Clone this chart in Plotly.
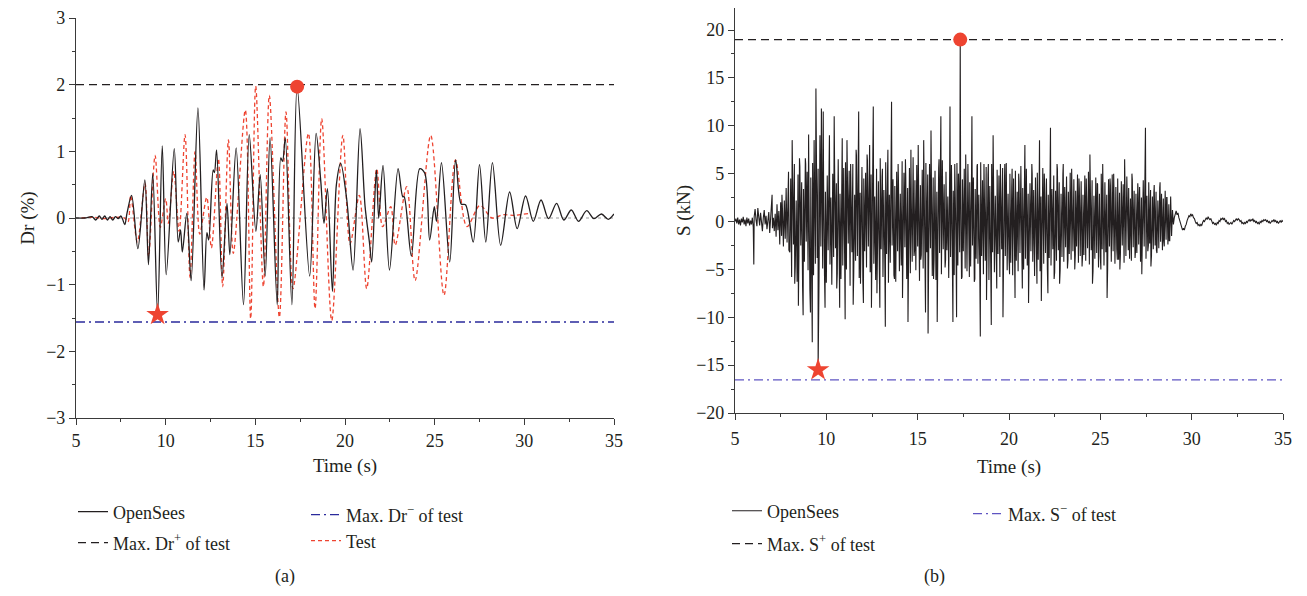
import numpy as np
import plotly.graph_objects as go

FONT = 'Liberation Serif'
INK = '#231f20'
RED = '#ee4431'
BLUE_A = '#2a2a9c'
BLUE_B = '#5f55c2'
AXIS = '#3a3a3a'

# ---- (a) drift ratio Dr (%) : turning points ----
dr_opensees_t = [5.0, 5.5, 5.9, 6.1, 6.3, 6.45, 6.6, 6.75, 6.9, 7.05, 7.2, 7.35, 7.5, 7.6, 7.72, 7.85,
	8.1, 8.45, 8.84, 9.04, 9.28, 9.55, 9.81, 10.03, 10.48, 10.7, 10.83, 10.93, 11.18, 11.42,
	11.8, 12.14, 12.3, 12.4, 12.65, 12.72, 12.84, 13.14, 13.42, 13.58, 13.93, 14.34, 14.66,
	15.03, 15.27, 15.55, 15.82, 16.22, 16.42, 16.52, 16.67, 17.04, 17.33, 18.03, 18.39, 18.65,
	18.83, 19.02, 19.3, 19.52, 19.76, 20.1, 20.45, 20.84, 21.12, 21.36, 21.49, 21.75, 21.88,
	22.12, 22.48, 22.96, 23.22, 23.3, 23.7, 24.17, 24.45, 24.72, 24.98, 25.1, 25.38, 25.84,
	26.17, 26.48, 26.72, 27.15, 27.5, 27.85, 28.22, 28.68, 29.18, 29.6, 30.07, 30.5, 30.93,
	31.35, 31.8, 32.2, 32.62, 33.02, 33.48, 33.88, 34.3, 34.68, 35.0]
dr_opensees = [0.0, 0.0, 0.02, -0.03, 0.03, -0.02, 0.03, -0.03, 0.02, -0.03, 0.02, -0.01, 0.03, -0.02, -0.1, 0.08,
	0.34, -0.46, 0.57, -0.7, 0.67, -1.45, 1.08, -0.85, 1.04, -0.36, -0.18, -0.51, 0.07, -0.94,
	1.65, -1.08, -0.22, -0.33, 0.72, 0.68, 1.02, -0.9, 0.22, -0.55, 1.05, -1.3, 1.25,
	-0.2, 0.65, -0.87, 1.2, -1.3, 0.9, 0.85, 1.2, -1.3, 1.97, -0.87, 1.27, 0.55,
	-0.08, 0.44, -1.1, 0.5, 0.82, 0.27, -0.78, 1.34, 0.17, -0.36, -0.66, 0.72, 0.0,
	0.79, -0.78, 0.74, 0.32, 0.32, -0.57, 0.74, 0.67, -0.33, 0.17, -0.05, 0.83, -0.66,
	0.87, 0.21, 0.2, -0.36, 0.8, -0.36, 0.83, -0.41, 0.39, -0.16, 0.33, -0.05, 0.27,
	-0.01, 0.22, -0.03, 0.12, -0.05, 0.11, -0.01, 0.06, -0.02, 0.06]

dr_test_t = [5.3, 6.0, 6.6, 7.2, 7.7, 7.9, 8.05, 8.42, 8.85, 9.05, 9.41, 9.7, 10.0, 10.15, 10.45, 10.75,
	11.08, 11.36, 11.64, 11.9, 12.29, 12.55, 12.94, 13.18, 13.5, 13.77, 14.44, 14.74, 15.02,
	15.45, 15.78, 16.34, 16.71, 17.1, 17.96, 18.33, 18.7, 19.26, 19.88, 20.28, 20.8, 21.21,
	21.77, 22.1, 22.55, 22.8, 23.44, 23.91, 24.78, 25.52, 26.16, 26.8, 27.53, 28.2, 28.8,
	29.4, 30.3]
dr_test = [0.0, 0.01, -0.01, 0.01, 0.0, -0.06, 0.34, -0.36, 0.52, -0.58, 0.94, -0.14, 0.29, -0.08, 0.7, -0.2,
	1.25, -0.89, 1.0, -0.24, 0.31, -0.45, 0.89, -1.03, 1.17, -0.53, 1.62, -1.51, 1.98,
	-1.03, 1.84, -1.49, 1.59, -1.06, 1.27, -1.36, 1.49, -1.54, 1.24, -0.39, 0.34, -1.06,
	0.74, -0.13, 0.17, -0.41, 0.47, -0.94, 1.24, -1.16, 0.87, -0.13, 0.19, 0.0, 0.05,
	0.04, 0.07]

dr_max_pos = 2.0
dr_max_neg = -1.56
dr_peak_t, dr_peak = 17.33, 1.97
dr_low_t, dr_low = 9.55, -1.45

# ---- (b) shear force S (kN) ----
# record sampled every 0.05 s from 5 s to 35 s (pre-event, strong motion, free vibration)
s_start, s_step = 5.0, 0.05
s_pre = [
	0.0, 0.3, -0.2, 0.4, -0.3, 0.2, -0.4, 0.3, -0.1, 0.5,
	-0.3, 0.2, -0.5, 0.4, -0.2, 0.3, -0.4, 0.1, -0.3, 0.4,
	-0.6, 0.5, 1.3, 0.2, -0.5, 1.4, 0.3, -0.4, 0.9, -0.2,
	-1.0, 0.4, 1.2, -0.3, 0.6, -0.8, 0.2, 1.0, -1.2, 0.5,
	1.5, -0.7, 0.4, -1.0, 0.8, -1.6, 1.8, -0.9, 1.1, -2.4,
	2.0, -1.5, 1.2, -2.6, 2.2, -1.8, 3.5, -2.2, 1.6, -3.0]
s_strong = [
	-3.2, 4.5, -5.8, 3.1, -2.4, 6.0, -4.7, 2.2, -6.3, 4.9,
	-3.6, 5.8, -2.5, 4.1, -6.9, 3.4, -4.2, 6.6, -2.1, 5.2,
	-5.1, 3.0, -7.2, 4.6, -3.3, 6.1, -5.6, 2.7, -4.4, 7.0,
	-3.8, 5.5, -6.1, 3.6, -2.6, 6.8, -4.9, 4.2, -5.7, 3.1,
	-6.4, 4.8, -3.0, 5.9, -4.5, 2.5, -6.6, 5.0, -3.7, 6.3,
	-2.8, 4.0, -5.4, 6.5, -3.9, 2.9, -6.0, 4.7, -4.6, 5.6,
	-3.4, 6.2, -5.0, 3.5, -2.3, 5.3, -6.7, 4.1, -3.2, 6.0,
	-5.5, 2.8, -4.1, 6.9, -3.6, 4.4, -5.9, 3.0, -2.7, 5.7,
	-6.2, 4.5, -3.1, 5.1, -4.8, 6.4, -2.6, 3.8, -5.3, 4.9,
	-3.5, 6.0, -4.4, 2.6, -6.1, 5.5, -3.0, 4.2, -5.0, 6.6,
	-2.9, 4.7, -5.8, 3.3, -4.0, 6.2, -3.4, 5.0, -6.4, 2.8,
	-4.3, 5.8, -2.5, 4.4, -5.6, 3.7, -6.3, 5.2, -3.1, 4.0,
	-5.2, 2.9, -4.6, 6.3, -3.3, 5.1, -2.7, 4.6, -6.0, 3.5,
	-3.9, 5.6, -5.4, 2.4, -4.2, 6.7, -3.6, 4.3, -5.1, 5.9,
	-2.6, 4.1, -6.2, 3.8, -3.5, 5.4, -4.9, 2.7, -5.8, 6.1,
	-3.2, 4.9, -4.5, 6.0, -2.8, 3.4, -5.7, 4.6, -3.9, 5.3,
	-6.1, 3.1, -4.0, 5.6, -3.3, 4.2, -5.5, 6.4, -2.9, 3.9,
	-4.8, 5.2, -3.0, 2.6, -5.9, 4.7, -3.7, 5.9, -4.3, 3.2,
	-5.6, 4.0, -2.7, 6.1, -4.6, 3.6, -3.2, 5.0, -6.0, 4.4,
	-3.1, 5.5, -4.9, 2.9, -5.2, 6.0, -3.5, 4.1, -4.7, 5.3,
	-2.5, 4.6, -6.3, 3.4, -3.9, 5.8, -4.4, 2.8, -5.0, 6.2,
	-3.6, 4.3, -5.5, 3.0, -4.1, 5.7, -2.8, 4.9, -6.1, 3.7,
	-4.5, 6.0, -3.2, 4.4, -5.3, 2.7, -4.0, 5.4, -3.4, 4.8,
	-5.8, 3.3, -2.9, 5.6, -4.7, 4.0, -3.6, 6.1, -5.1, 2.9,
	-3.8, 5.0, -4.3, 3.6, -5.6, 4.5, -2.6, 5.3, -4.1, 3.1,
	-5.2, 4.2, -3.3, 5.8, -2.9, 3.5, -5.0, 4.7, -3.9, 5.5,
	-4.6, 2.9, -5.4, 4.0, -3.1, 6.0, -4.2, 3.3, -5.7, 4.6,
	-2.7, 5.1, -4.0, 3.7, -5.2, 2.6, -3.5, 5.6, -4.4, 3.9,
	-3.3, 4.5, -5.0, 2.8, -3.8, 5.2, -4.6, 3.4, -2.9, 4.8,
	-5.3, 3.2, -4.1, 5.5, -3.0, 4.1, -5.1, 2.9, -3.7, 5.0,
	-4.2, 3.6, -2.7, 4.7, -4.9, 3.1, -3.4, 5.1, -4.0, 2.6,
	-3.1, 4.4, -5.0, 3.2, -2.6, 4.9, -4.3, 3.5, -3.6, 4.2,
	-4.7, 2.8, -3.5, 4.8, -4.1, 3.0, -2.8, 5.2, -4.5, 3.6,
	-3.0, 4.3, -5.2, 2.7, -3.9, 4.6, -3.3, 3.9, -4.8, 2.9,
	-3.7, 5.0, -2.9, 3.4, -4.6, 4.1, -3.2, 2.8, -5.0, 4.4,
	-2.6, 3.8, -4.2, 4.9, -3.1, 2.7, -4.4, 3.6, -2.9, 4.5,
	-4.0, 3.0, -3.4, 4.2, -2.5, 3.9, -4.3, 2.6, -3.6, 4.7,
	-2.8, 3.5, -3.9, 2.4, -4.1, 4.4, -2.7, 3.2, -3.8, 2.9,
	-3.3, 4.0, -2.4, 3.6, -4.2, 2.5, -3.0, 4.3, -2.6, 3.4,
	-3.9, 2.7, -3.1, 4.1, -2.3, 3.3, -3.6, 2.6, -2.9, 3.8,
	-2.5, 3.1, -3.3, 2.2, -2.8, 3.5, -2.1, 2.9, -3.0, 2.4,
	-2.6, 3.2, -1.9, 2.5, -2.4, 1.8, -2.0, 2.6, -1.5, 1.2]
s_tail = [
	-0.3, 0.4, 0.8, 1.1, 0.7, 0.9, 0.4, 0.1, -0.4, -0.6,
	-0.9, -0.7, -0.9, -0.5, -0.3, 0.1, 0.3, 0.6, 0.5, 0.8,
	0.6, 0.7, 0.4, 0.3, 0.0, -0.2, -0.1, -0.4, -0.3, -0.5,
	-0.3, -0.4, -0.1, 0.1, 0.0, 0.3, 0.4, 0.2, 0.5, 0.3,
	0.2, 0.3, 0.0, -0.2, -0.1, -0.3, -0.2, -0.4, -0.1, -0.2,
	0.1, 0.0, 0.3, 0.2, 0.4, 0.2, 0.3, 0.0, 0.1, -0.2,
	-0.1, -0.3, -0.2, -0.1, -0.3, 0.0, 0.1, 0.0, 0.2, 0.3,
	0.1, 0.3, 0.2, 0.0, 0.1, -0.2, -0.1, -0.3, -0.1, -0.2,
	0.0, -0.1, 0.1, 0.2, 0.0, 0.2, 0.1, 0.3, 0.0, 0.1,
	-0.1, 0.0, -0.2, -0.1, -0.3, 0.0, -0.1, 0.1, 0.0, 0.2,
	0.1, 0.2, 0.0, 0.1, -0.1, 0.0, -0.2, -0.1, 0.1, 0.0,
	0.2, 0.0, 0.1, -0.1, 0.0, -0.2, 0.0, 0.1, -0.1, 0.1,
	0.0]
# isolated peaks that stand out of the record
s_spike_t = [6.03, 7.03, 7.57, 7.93, 8.13, 8.27, 8.47, 8.53, 8.73, 8.87, 9.03, 9.13, 9.23, 9.33, 9.43,
	9.55, 9.65, 9.73, 9.83, 9.93, 10.17, 10.43, 10.57, 10.73, 10.87, 11.03, 11.13, 11.33, 11.47,
	11.63, 11.77, 11.87, 12.03, 12.23, 12.37, 12.47, 12.57, 12.77, 12.93, 13.07, 13.23, 13.37,
	13.57, 13.73, 13.93, 14.17, 14.33, 14.47, 14.63, 14.83, 15.03, 15.17, 15.33, 15.43, 15.57,
	15.73, 15.87, 16.07, 16.17, 16.27, 16.53, 16.77, 16.93, 17.03, 17.13, 17.23, 17.33, 17.43,
	17.63, 17.83, 17.97, 18.13, 18.27, 18.43, 18.63, 18.77, 18.87, 19.03, 19.13, 19.33, 19.53,
	19.67, 19.77, 20.03, 20.17, 20.33, 20.53, 20.73, 20.87, 21.07, 21.27, 21.53, 21.67, 21.77,
	21.93, 22.13, 22.27, 22.47, 22.63, 22.77, 22.97, 23.23, 23.43, 23.63, 23.83, 24.03, 24.23,
	24.43, 24.57, 24.83, 25.03, 25.13, 25.37, 25.53, 25.73, 25.93, 26.07, 26.33, 26.53, 26.73,
	26.93, 27.07, 27.27, 27.47, 27.63, 27.77, 27.93, 28.07, 28.27, 28.47, 28.63, 28.77]
s_spike = [-4.5, 2.8, 2.8, 5.2, 8.5, -6.5, -8.8, 6.6, -9.8, 6.0, 9.1, -9.5, -12.6, 8.5, 13.9,
	-15.5, 9.0, 11.8, 11.5, -9.0, 9.0, 11.0, -7.0, -9.0, 8.7, -10.2, 8.5, 6.0, -8.7,
	7.5, 11.5, -6.5, -8.5, 7.0, 8.0, -9.0, 12.0, -7.5, -9.0, 5.5, -11.0, 7.5,
	12.5, -6.0, 6.0, -8.0, 6.5, -10.5, 7.5, -3.0, 8.0, -4.0, 8.5, -9.5, -11.7,
	9.5, -6.0, -10.5, 6.5, 11.0, -4.0, 12.0, -10.5, 6.0, -10.0, 5.0, 19.0, -5.8,
	7.0, -5.8, 11.0, -6.0, 6.0, -12.0, 6.0, -8.2, 6.0, -10.8, 9.0, -7.0, 6.0,
	-10.0, 6.0, -5.5, 5.5, -8.0, 5.0, -7.0, 8.0, -8.5, 5.0, -6.5, 8.5, -8.3,
	5.0, -7.5, 9.8, -6.0, 6.0, -6.5, 6.0, -4.0, 5.5, -3.5, 4.5, -3.5, 4.5,
	7.0, -6.5, 4.0, -5.0, 6.0, -8.0, 4.5, 5.0, -4.0, -5.0, 6.5, -3.0, 5.0,
	-3.0, 3.0, -5.5, 9.8, -2.5, -4.7, 3.0, -3.0, 4.1, -2.0, 2.5, -2.0]

s_max_pos = 19.0
s_max_neg = -16.55
s_peak_t, s_peak = 17.33, 19.0
s_low_t, s_low = 9.55, -15.5

# merge the sampled record with the read-off peaks, in time order
s_record = s_pre + s_strong + s_tail
s_rec_t = np.round(s_start + s_step*np.arange(len(s_record)), 2)
s_t = np.concatenate([s_rec_t, s_spike_t])
s_v = np.concatenate([s_record, s_spike])
order = np.argsort(s_t, kind='stable')
s_t, s_v = s_t[order], s_v[order]

# the page body keeps its default 8 px margin, so the figure is shrunk to fit
# and positions below are given in window pixels
W, H, OFF = 1307, 596, 8
FW, FH = W - 2*OFF, H - 2*OFF
def px_x(p):
	return min(1, max(0, (p - OFF)/FW))
def px_y(p):
	return min(1, max(0, 1 - (p - OFF)/FH))

fig = go.Figure()

# (a)
fig.add_trace(go.Scatter(x=dr_test_t, y=dr_test, mode='lines', name='Test',
	line=dict(color=RED, width=1.3, dash='4px,3px', shape='spline', smoothing=0.9),
	xaxis='x', yaxis='y', legend='legend4'))
fig.add_trace(go.Scatter(x=dr_opensees_t, y=dr_opensees, mode='lines', name='OpenSees',
	line=dict(color=INK, width=1.3, shape='spline', smoothing=0.9),
	xaxis='x', yaxis='y', legend='legend'))
fig.add_trace(go.Scatter(x=[5, 35], y=[dr_max_pos]*2, mode='lines', name='Max. Dr<sup>+</sup> of test',
	line=dict(color=INK, width=1.2, dash='8px,5px'), xaxis='x', yaxis='y', legend='legend2'))
fig.add_trace(go.Scatter(x=[5, 35], y=[dr_max_neg]*2, mode='lines', name='Max. Dr<sup>\u2212</sup> of test',
	line=dict(color=BLUE_A, width=1.3, dash='9px,4px,2px,4px'), xaxis='x', yaxis='y', legend='legend3'))
fig.add_trace(go.Scatter(x=[dr_peak_t], y=[dr_peak], mode='markers', showlegend=False,
	marker=dict(color=RED, size=14, symbol='circle'), xaxis='x', yaxis='y'))
fig.add_trace(go.Scatter(x=[dr_low_t], y=[dr_low], mode='markers', showlegend=False,
	marker=dict(color=RED, size=17, symbol='star'), xaxis='x', yaxis='y'))

# (b)
fig.add_trace(go.Scatter(x=s_t, y=s_v, mode='lines', name='OpenSees',
	line=dict(color=INK, width=1.1), xaxis='x2', yaxis='y2', legend='legend5'))
fig.add_trace(go.Scatter(x=[5, 35], y=[s_max_pos]*2, mode='lines', name='Max. S<sup>+</sup> of test',
	line=dict(color=INK, width=1.2, dash='8px,5px'), xaxis='x2', yaxis='y2', legend='legend6'))
fig.add_trace(go.Scatter(x=[5, 35], y=[s_max_neg]*2, mode='lines', name='Max. S<sup>\u2212</sup> of test',
	line=dict(color=BLUE_B, width=1.3, dash='9px,4px,2px,4px'), xaxis='x2', yaxis='y2', legend='legend7'))
fig.add_trace(go.Scatter(x=[s_peak_t], y=[s_peak], mode='markers', showlegend=False,
	marker=dict(color=RED, size=14, symbol='circle'), xaxis='x2', yaxis='y2'))
fig.add_trace(go.Scatter(x=[s_low_t], y=[s_low], mode='markers', showlegend=False,
	marker=dict(color=RED, size=17, symbol='star'), xaxis='x2', yaxis='y2'))

axis_common = dict(
	showgrid=False, zeroline=False, showline=True, linecolor=AXIS, linewidth=1.2,
	ticks='outside', ticklen=6, tickwidth=1, tickcolor=AXIS, automargin=False,
	tickfont=dict(family=FONT, size=18, color=INK),
	title_font=dict(family=FONT, size=19, color=INK),
)
fig.update_layout(
	width=FW, height=FH,
	margin=dict(l=0, r=0, t=0, b=0, autoexpand=False),
	paper_bgcolor='white', plot_bgcolor='white',
	font=dict(family=FONT, size=18, color=INK),
	xaxis=dict(domain=[px_x(76), px_x(614)], range=[5, 35], tick0=5, dtick=5, anchor='y',
		minor=dict(ticks='outside', ticklen=3, tickcolor=AXIS, dtick=2.5, tick0=5),
		title=dict(text='Time (s)', standoff=8), **axis_common),
	yaxis=dict(domain=[px_y(418), px_y(18)], range=[-3, 3], tick0=0, dtick=1, anchor='x',
		minor=dict(ticks='outside', ticklen=3, tickcolor=AXIS, dtick=0.5, tick0=0),
		title=dict(text='Dr (%)', standoff=6), **axis_common),
	xaxis2=dict(domain=[px_x(735), px_x(1283)], range=[5, 35], tick0=5, dtick=5, anchor='y2',
		minor=dict(ticks='outside', ticklen=3, tickcolor=AXIS, dtick=2.5, tick0=5),
		ticklabelstandoff=3, title=dict(text='Time (s)', standoff=11), **axis_common),
	yaxis2=dict(domain=[px_y(413), px_y(8)], range=[-20, 22.3], tick0=0, dtick=5, anchor='x2',
		minor=dict(ticks='outside', ticklen=3, tickcolor=AXIS, dtick=2.5, tick0=0),
		title=dict(text='S (kN)', standoff=0), **axis_common),
	shapes=[dict(type='line', xref='x domain', yref='y', x0=0, x1=1, y0=0, y1=0,
		line=dict(color='#9a9a9a', width=1, dash='dot'), layer='below')],
	annotations=[
		dict(text='(a)', x=px_x(285), y=px_y(576), xref='paper', yref='paper', showarrow=False,
			xanchor='center', yanchor='middle', font=dict(family=FONT, size=18, color=INK)),
		dict(text='(b)', x=px_x(934), y=px_y(576), xref='paper', yref='paper', showarrow=False,
			xanchor='center', yanchor='middle', font=dict(family=FONT, size=18, color=INK)),
	],
)

# one small legend per entry so each sits where it does in the figure
legend_spots = {
	'legend': (73, 512), 'legend2': (73, 543), 'legend3': (306, 515), 'legend4': (306, 541),
	'legend5': (727, 511), 'legend6': (727, 544), 'legend7': (968, 514),
}
for name, (lx, ly) in legend_spots.items():
	fig.update_layout({name: dict(x=px_x(lx), y=px_y(ly), xanchor='left', yanchor='middle',
		bgcolor='rgba(0,0,0,0)', itemwidth=30, font=dict(family=FONT, size=18, color=INK))})

fig.write_html('out.html')
